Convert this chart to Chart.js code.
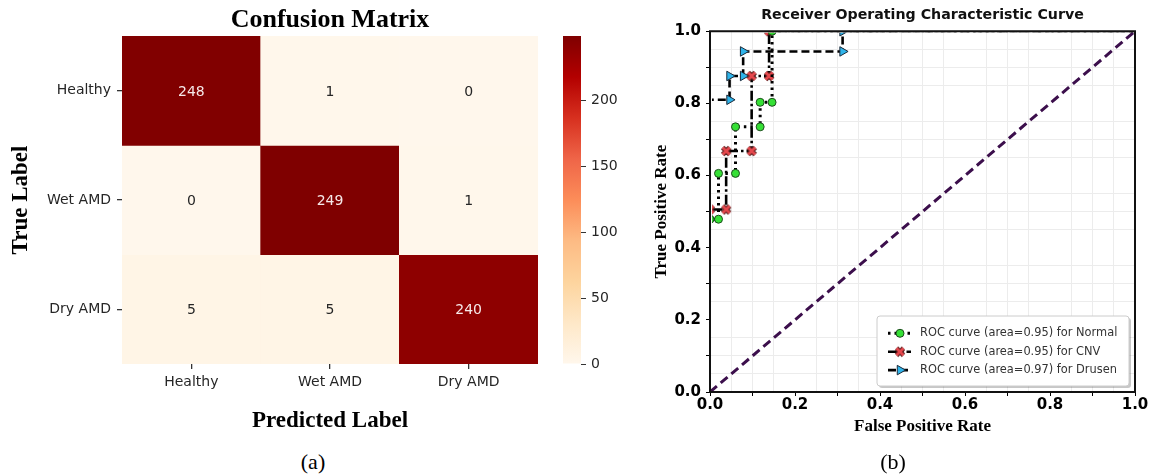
<!DOCTYPE html>
<html><head><meta charset="utf-8">
<script src="https://cdn.jsdelivr.net/npm/chart.js@4.4.0/dist/chart.umd.min.js"></script>
<style>
html,body{margin:0;padding:0;background:#fff;width:1152px;height:476px;overflow:hidden;position:relative;}
canvas{position:absolute;top:0;}
.cap{position:absolute;font-family:'Liberation Serif',serif;font-size:22px;color:#000;transform:translate(-50%,-50%);white-space:nowrap;}
</style></head><body>
<canvas id="cm" width="555" height="445" style="left:0px"></canvas>
<canvas id="cb" width="100" height="445" style="left:555px"></canvas>
<canvas id="roc" width="512" height="452" style="left:640px"></canvas>
<div class="cap" style="left:313px;top:462px">(a)</div>
<div class="cap" style="left:893px;top:462px">(b)</div>
<script>
// ---------- data ----------
const cmClasses = ['Healthy', 'Wet AMD', 'Dry AMD'];
const cmRowHealthy = [248, 1, 0];
const cmRowWet = [0, 249, 1];
const cmRowDry = [5, 5, 240];
const cbTickValues = [0, 50, 100, 150, 200];

const rocNames = ['Normal', 'CNV', 'Drusen'];
const rocAreas = [0.95, 0.95, 0.97];
const rocNormalFpr = [0, 0, 0.02, 0.02, 0.06, 0.06, 0.118, 0.118, 0.146, 0.146, 1];
const rocNormalTpr = [0, 0.479, 0.479, 0.606, 0.606, 0.735, 0.735, 0.803, 0.803, 1.0, 1.0];
const rocCnvFpr = [0, 0, 0.038, 0.038, 0.098, 0.098, 0.139, 0.139, 1];
const rocCnvTpr = [0, 0.506, 0.506, 0.668, 0.668, 0.876, 0.876, 1.0, 1.0];
const rocDrusenFpr = [0, 0, 0.046, 0.046, 0.078, 0.078, 0.312, 0.312, 1];
const rocDrusenTpr = [0, 0.81, 0.81, 0.876, 0.876, 0.944, 0.944, 1.0, 1.0];
const chanceFpr = [0, 1];
const chanceTpr = [0, 1];
const rocTickLabels = ['0.0', '0.2', '0.4', '0.6', '0.8', '1.0'];

// ---------- helpers ----------
const SANS = '"DejaVu Sans", sans-serif';
const SERIF = '"Liberation Serif", "Times New Roman", serif';
Chart.defaults.font.family = SANS;
const ORRD = ['#fff7ec','#fee8c8','#fdd49e','#fdbb84','#fc8d59','#ef6548','#d7301f','#b30000','#7f0000'];
function hexRgb(h){ return [parseInt(h.slice(1,3),16), parseInt(h.slice(3,5),16), parseInt(h.slice(5,7),16)]; }
function orrd(t){
  t = Math.max(0, Math.min(1, t));
  const p = t * (ORRD.length - 1);
  const i = Math.min(Math.floor(p), ORRD.length - 2);
  const f = p - i;
  const a = hexRgb(ORRD[i]), b = hexRgb(ORRD[i+1]);
  const c = a.map((v,k)=>Math.round(v + (b[k]-v)*f));
  return `rgb(${c[0]},${c[1]},${c[2]})`;
}
const cmRows = [cmRowHealthy, cmRowWet, cmRowDry];
const allVals = cmRows.flat();
const vmin = Math.min(...allVals), vmax = Math.max(...allVals);
const norm = v => (v - vmin) / (vmax - vmin);

// ---------- confusion matrix ----------
const cellLabels = {
  id: 'cellLabels',
  afterDatasetsDraw(chart){
    const ctx = chart.ctx;
    ctx.save();
    ctx.font = '14px ' + SANS;
    ctx.textAlign = 'center';
    ctx.textBaseline = 'middle';
    chart.data.datasets.forEach((ds, i) => {
      const meta = chart.getDatasetMeta(i);
      meta.data.forEach((el, j) => {
        const v = ds.values[j];
        ctx.fillStyle = norm(v) > 0.5 ? '#f6e8e8' : '#262626';
        ctx.fillText(String(v), el.x, (el.y + el.base) / 2 + 1.5);
      });
    });
    ctx.restore();
  }
};

new Chart(document.getElementById('cm'), {
  type: 'bar',
  data: {
    labels: cmClasses,
    datasets: cmRows.map((row, i) => ({
      label: cmClasses[i],
      data: row.map(() => 1),
      values: row,
      backgroundColor: row.map(v => orrd(norm(v))),
      borderWidth: 0,
      barPercentage: 1,
      categoryPercentage: 1
    }))
  },
  options: {
    responsive: false, animation: false, events: [],
    layout: { padding: { left: 0, right: 17, top: 0, bottom: 0 } },
    plugins: {
      legend: { display: false }, tooltip: { enabled: false },
      title: { display: true, fullSize: false, text: 'Confusion Matrix', color: '#000',
        font: { family: SERIF, size: 26, weight: 'bold', lineHeight: 1 }, padding: { top: 7, bottom: 3 } }
    },
    scales: {
      x: {
        stacked: true, z: 1,
        grid: { offset: false, color: 'rgba(90,70,50,0.08)', lineWidth: 1.3, tickColor: '#333', tickLength: 5 },
        border: { display: false },
        ticks: { color: '#262626', font: { family: SANS, size: 14 }, padding: 5 },
        title: { display: true, text: 'Predicted Label', color: '#000',
          font: { family: SERIF, size: 23, weight: 'bold' }, padding: { top: 0, bottom: 10.2 } },
        afterFit: s => { s.height = 81; }
      },
      y: {
        type: 'linear', stacked: true, reverse: true, min: 0, max: 3, z: 1,
        afterBuildTicks: s => { s.ticks = cmClasses.map((c, i) => ({ value: i + 0.5 })); },
        grid: { color: 'rgba(90,70,50,0.08)', lineWidth: 1.3, tickColor: '#333', tickLength: 5 },
        border: { display: false },
        ticks: { color: '#262626', font: { family: SANS, size: 14 }, padding: 6,
          callback: v => cmClasses[Math.floor(v)] },
        title: { display: true, text: 'True Label', color: '#000',
          font: { family: SERIF, size: 23, weight: 'bold' }, padding: { top: 7.5, bottom: 0 } },
        afterFit: s => { s.width = 122; }
      }
    }
  },
  plugins: [cellLabels]
});

// ---------- colour bar ----------
new Chart(document.getElementById('cb'), {
  type: 'bar',
  data: {
    labels: [''],
    datasets: [{
      data: [vmax],
      backgroundColor: (c) => {
        const ca = c.chart.chartArea;
        if (!ca) return ORRD[0];
        const g = c.chart.ctx.createLinearGradient(0, ca.bottom, 0, ca.top);
        ORRD.forEach((col, k) => g.addColorStop(k / (ORRD.length - 1), col));
        return g;
      },
      borderWidth: 0, barPercentage: 1, categoryPercentage: 1, inflateAmount: 0
    }]
  },
  options: {
    responsive: false, animation: false, events: [],
    layout: { padding: { left: 8, right: 0, top: 36, bottom: 81 } },
    plugins: { legend: { display: false }, tooltip: { enabled: false } },
    scales: {
      x: { display: false },
      y: {
        position: 'right', min: vmin, max: vmax,
        afterBuildTicks: s => { s.ticks = cbTickValues.map(v => ({ value: v })); },
        grid: { drawOnChartArea: false, tickLength: 5, tickColor: '#333' },
        border: { display: false },
        ticks: { color: '#262626', font: { family: SANS, size: 14 }, padding: 5 },
        afterFit: s => { s.width = 74; }
      }
    }
  }
});

// ---------- ROC ----------
function makeXMarker(){
  const c = document.createElement('canvas');
  c.width = 12; c.height = 12;
  const g = c.getContext('2d');
  g.beginPath();
  g.moveTo(2.5, 2.5); g.lineTo(9.5, 9.5);
  g.moveTo(9.5, 2.5); g.lineTo(2.5, 9.5);
  g.lineCap = 'butt';
  g.strokeStyle = '#5a1a1a'; g.lineWidth = 4.8; g.stroke();
  g.strokeStyle = '#e5484d'; g.lineWidth = 2.8; g.stroke();
  return c;
}
const xMarker = makeXMarker();
const pts = (fx, ty) => fx.map((x, i) => ({ x, y: ty[i] }));
const hideIdx = (hidden, r) => (c) => hidden.includes(c.dataIndex) ? 0 : r;
const innerClip = { left: -2, top: -1.5, right: 0, bottom: 0 };

const rocDatasets = [
  {
    label: `ROC curve (area=${rocAreas[0].toFixed(2)}) for ${rocNames[0]}`,
    data: pts(rocNormalFpr, rocNormalTpr), inLegend: true, clip: innerClip,
    borderColor: '#000', borderWidth: 3, borderDash: [2.5, 4], borderCapStyle: 'butt',
    pointStyle: 'circle', pointRadius: hideIdx([0, rocNormalFpr.length - 1], 4), legendRadius: 4,
    pointBackgroundColor: '#35e035', pointBorderColor: '#1d4d1d', pointBorderWidth: 1
  },
  {
    label: `ROC curve (area=${rocAreas[1].toFixed(2)}) for ${rocNames[1]}`,
    data: pts(rocCnvFpr, rocCnvTpr), inLegend: true, clip: innerClip,
    borderColor: '#000', borderWidth: 2.6, borderDash: [10, 3, 2.5, 3],
    pointStyle: xMarker, pointRadius: hideIdx([0, rocCnvFpr.length - 1], 4), legendRadius: 4,
    pointBackgroundColor: '#e5484d', pointBorderColor: '#5a1a1a', pointBorderWidth: 1
  },
  {
    label: `ROC curve (area=${rocAreas[2].toFixed(2)}) for ${rocNames[2]}`,
    data: pts(rocDrusenFpr, rocDrusenTpr), inLegend: true, clip: innerClip,
    borderColor: '#000', borderWidth: 2.6, borderDash: [8, 4],
    pointStyle: 'triangle', pointRotation: 90,
    pointRadius: hideIdx([0, 1, rocDrusenFpr.length - 1], 5.5), legendRadius: 5.5,
    pointBackgroundColor: '#2fb4ea', pointBorderColor: '#1a2a3a', pointBorderWidth: 1
  },
  {
    label: 'chance', data: pts(chanceFpr, chanceTpr), inLegend: false,
    borderColor: '#3c0f4c', borderWidth: 3, borderDash: [9, 5], pointRadius: 0
  }
];

const isMajor = v => Math.round(v * 20) % 4 === 0;
const isTenth = v => Math.round(v * 20) % 2 === 0;
const rocTicks = Array.from({ length: 21 }, (_, k) => ({ value: k / 20 }));
const majorLabel = v => isMajor(v) ? rocTickLabels[Math.round(v * 5)] : '';

const rocFrame = {
  id: 'rocFrame',
  afterDatasetsDraw(chart){
    const { ctx, chartArea: ca } = chart;
    ctx.save();
    ctx.strokeStyle = '#111'; ctx.lineWidth = 2;
    ctx.strokeRect(ca.left, ca.top, ca.right - ca.left, ca.bottom - ca.top);
    ctx.restore();
  },
  afterDraw(chart){
    const { ctx, chartArea: ca } = chart;
    const w = 252, h = 70;
    const x0 = ca.right - 6 - w, y0 = ca.bottom - 6 - h;
    ctx.save();
    ctx.fillStyle = 'rgba(0,0,0,0.22)';
    ctx.beginPath(); ctx.roundRect(x0 + 2, y0 + 2, w, h, 3); ctx.fill();
    ctx.fillStyle = '#fff';
    ctx.beginPath(); ctx.roundRect(x0, y0, w, h, 3); ctx.fill();
    ctx.strokeStyle = '#cccccc'; ctx.lineWidth = 1; ctx.stroke();
    chart.data.datasets.filter(d => d.inLegend).forEach((ds, k) => {
      const yy = y0 + 17.3 + k * 18.4;
      ctx.save();
      ctx.strokeStyle = ds.borderColor; ctx.lineWidth = ds.borderWidth;
      ctx.lineCap = ds.borderCapStyle || 'butt';
      ctx.setLineDash(ds.borderDash || []);
      ctx.beginPath(); ctx.moveTo(x0 + 11, yy); ctx.lineTo(x0 + 34, yy); ctx.stroke();
      ctx.restore();
      ctx.save();
      ctx.fillStyle = ds.pointBackgroundColor; ctx.strokeStyle = ds.pointBorderColor;
      ctx.lineWidth = ds.pointBorderWidth;
      Chart.helpers.drawPoint(ctx, { pointStyle: ds.pointStyle, radius: ds.legendRadius,
        rotation: ds.pointRotation || 0, borderWidth: ds.pointBorderWidth }, x0 + 23, yy);
      ctx.restore();
      ctx.fillStyle = '#333';
      ctx.font = '11.4px ' + SANS;
      ctx.textBaseline = 'middle'; ctx.textAlign = 'left';
      ctx.fillText(ds.label, x0 + 43, yy);
    });
    ctx.restore();
  }
};

const rocAxis = (titleText, isX) => ({
  type: 'linear', min: 0, max: 1,
  afterBuildTicks: s => { s.ticks = rocTicks.map(t => ({ value: t.value })); },
  grid: {
    color: c => (c.tick && isMajor(c.tick.value)) ? 'rgba(0,0,0,0)' : '#ececec',
    tickColor: c => (c.tick && isTenth(c.tick.value)) ? '#000' : 'rgba(0,0,0,0)',
    tickLength: 4, lineWidth: 1
  },
  border: { display: false },
  ticks: { autoSkip: false, maxRotation: 0, color: '#000', font: { family: SANS, size: 15, weight: 'bold' },
    padding: isX ? 0 : 5, callback: v => majorLabel(v) },
  title: { display: true, text: titleText, color: '#000', font: { family: SERIF, size: 17, weight: 'bold' },
    padding: isX ? { top: 0, bottom: 14.8 } : { top: 11, bottom: 0 } },
  afterFit: s => { if (isX) s.height = 60; else s.width = 70; }
});

new Chart(document.getElementById('roc'), {
  type: 'scatter',
  data: { datasets: rocDatasets.map(d => Object.assign({ showLine: true, tension: 0, fill: false }, d)) },
  options: {
    responsive: false, animation: false, events: [],
    layout: { padding: { left: 0, right: 17, top: 0, bottom: 0 } },
    plugins: {
      legend: { display: false }, tooltip: { enabled: false },
      title: { display: true, fullSize: false, text: 'Receiver Operating Characteristic Curve', color: '#111',
        font: { family: SANS, size: 14.2, weight: 'bold' }, padding: { top: 6.6, bottom: 7.6 } }
    },
    scales: { x: rocAxis('False Positive Rate', true), y: rocAxis('True Positive Rate', false) }
  },
  plugins: [rocFrame]
});
</script>
</body></html>
